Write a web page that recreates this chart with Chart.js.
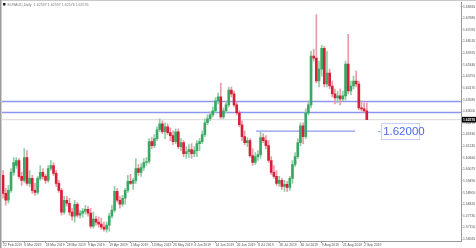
<!DOCTYPE html>
<html>
<head>
<meta charset="utf-8">
<script src="https://cdn.jsdelivr.net/npm/chart.js@4.4.1/dist/chart.umd.min.js"></script>
<style>
html, body { margin: 0; padding: 0; background: #fff; }
canvas { display: block; }
</style>
</head>
<body>
<canvas id="chart" width="476" height="248"></canvas>
<script>
// EURAUD daily candles, 22 Feb 2019 .. 3 Sep 2019 (one entry per trading day)
const symbolTitle = 'EURAUD,Daily  1.62597 1.62597 1.62576 1.62576';

const dateLabels = ['22 Feb 2019', '6 Mar 2019', '18 Mar 2019', '28 Mar 2019', '9 Apr 2019', '19 Apr 2019',
    '1 May 2019', '13 May 2019', '23 May 2019', '4 Jun 2019', '14 Jun 2019', '26 Jun 2019',
    '8 Jul 2019', '18 Jul 2019', '30 Jul 2019', '9 Aug 2019', '21 Aug 2019', '2 Sep 2019'];
const labelEvery = 8; // one date label every 8 bars

const opens = [
    1.5977, 1.5887, 1.5852, 1.5902, 1.5992, 1.6027, 1.6052, 1.5972, 1.5952, 1.6067,
    1.5937, 1.5962, 1.5902, 1.5892, 1.5962, 1.5992, 1.5972, 1.5952, 1.6012, 1.6027,
    1.5987, 1.5937, 1.5902, 1.5792, 1.5852, 1.5837, 1.5792, 1.5772, 1.5832, 1.5777,
    1.5787, 1.5797, 1.5807, 1.5787, 1.5722, 1.5757, 1.5742, 1.5732, 1.5717, 1.5707,
    1.5727, 1.5772, 1.5802, 1.5897, 1.5852, 1.5832, 1.5862, 1.5902, 1.5947, 1.5937,
    1.5952, 1.6012, 1.5992, 1.6017, 1.6042, 1.6047, 1.6147, 1.6127, 1.6162, 1.6207,
    1.6237, 1.6197, 1.6222, 1.6192, 1.6177, 1.6147, 1.6197, 1.6122, 1.6142, 1.6087,
    1.6097, 1.6107, 1.6087, 1.6102, 1.6137, 1.6147, 1.6182, 1.6242, 1.6262, 1.6282,
    1.6302, 1.6352, 1.6372, 1.6272, 1.6302, 1.6332, 1.6407, 1.6387, 1.6332, 1.6292,
    1.6232, 1.6172, 1.6142, 1.6152, 1.6077, 1.6042, 1.6072, 1.6082, 1.6167, 1.6152,
    1.6127, 1.6052, 1.5992, 1.5972, 1.5937, 1.5952, 1.5922, 1.5932, 1.5917, 1.5962,
    1.6032, 1.6072, 1.6142, 1.6227, 1.6172, 1.6292, 1.6332, 1.6577, 1.6567, 1.6452,
    1.6512, 1.6617, 1.6437, 1.6492, 1.6427, 1.6387, 1.6367, 1.6377, 1.6362, 1.6377,
    1.6537, 1.6402, 1.6427, 1.6452, 1.6437, 1.6317, 1.6312, 1.6302
];
const highs = [
    1.6002, 1.5912, 1.5927, 1.6012, 1.6067, 1.6067, 1.6062, 1.5992, 1.6112, 1.6102,
    1.6002, 1.5977, 1.5937, 1.5972, 1.6027, 1.6012, 1.5982, 1.6027, 1.6052, 1.6042,
    1.6002, 1.5952, 1.5912, 1.5872, 1.5872, 1.5862, 1.5812, 1.5852, 1.5842, 1.5802,
    1.5812, 1.5827, 1.5822, 1.5812, 1.5792, 1.5772, 1.5767, 1.5762, 1.5742, 1.5742,
    1.5787, 1.5827, 1.5922, 1.5912, 1.5872, 1.5877, 1.5912, 1.5977, 1.5982, 1.5962,
    1.6062, 1.6032, 1.6037, 1.6062, 1.6067, 1.6162, 1.6167, 1.6182, 1.6222, 1.6262,
    1.6252, 1.6242, 1.6237, 1.6217, 1.6202, 1.6212, 1.6212, 1.6162, 1.6152, 1.6122,
    1.6132, 1.6137, 1.6122, 1.6152, 1.6162, 1.6202, 1.6262, 1.6282, 1.6297, 1.6322,
    1.6367, 1.6392, 1.6442, 1.6317, 1.6352, 1.6422, 1.6422, 1.6402, 1.6347, 1.6302,
    1.6252, 1.6202, 1.6167, 1.6162, 1.6112, 1.6092, 1.6102, 1.6197, 1.6187, 1.6177,
    1.6152, 1.6072, 1.6027, 1.6002, 1.5972, 1.5962, 1.5952, 1.5947, 1.5972, 1.6052,
    1.6092, 1.6162, 1.6242, 1.6242, 1.6312, 1.6352, 1.6602, 1.6612, 1.6787, 1.6552,
    1.6632, 1.6627, 1.6602, 1.6512, 1.6452, 1.6412, 1.6402, 1.6412, 1.6402, 1.6552,
    1.6687, 1.6452, 1.6477, 1.6502, 1.6452, 1.6352, 1.6342, 1.6342
];
const lows = [
    1.5862, 1.5827, 1.5837, 1.5892, 1.5977, 1.6012, 1.5962, 1.5927, 1.5942, 1.5927,
    1.5922, 1.5887, 1.5877, 1.5882, 1.5952, 1.5957, 1.5937, 1.5942, 1.6002, 1.5977,
    1.5922, 1.5892, 1.5777, 1.5782, 1.5822, 1.5777, 1.5752, 1.5742, 1.5767, 1.5762,
    1.5767, 1.5782, 1.5772, 1.5712, 1.5712, 1.5727, 1.5717, 1.5707, 1.5697, 1.5692,
    1.5697, 1.5762, 1.5792, 1.5842, 1.5812, 1.5822, 1.5832, 1.5892, 1.5932, 1.5907,
    1.5937, 1.5977, 1.5972, 1.6002, 1.6027, 1.6037, 1.6112, 1.6117, 1.6152, 1.6197,
    1.6187, 1.6162, 1.6182, 1.6152, 1.6132, 1.6137, 1.6112, 1.6102, 1.6072, 1.6062,
    1.6067, 1.6062, 1.6072, 1.6072, 1.6102, 1.6137, 1.6172, 1.6232, 1.6252, 1.6272,
    1.6292, 1.6337, 1.6262, 1.6262, 1.6292, 1.6322, 1.6372, 1.6322, 1.6282, 1.6222,
    1.6152, 1.6132, 1.6122, 1.6067, 1.6027, 1.6032, 1.6052, 1.6062, 1.6142, 1.6112,
    1.6042, 1.5982, 1.5962, 1.5927, 1.5922, 1.5907, 1.5897, 1.5897, 1.5902, 1.5937,
    1.6022, 1.6062, 1.6127, 1.6137, 1.6162, 1.6282, 1.6317, 1.6552, 1.6442, 1.6422,
    1.6477, 1.6422, 1.6422, 1.6412, 1.6372, 1.6337, 1.6342, 1.6332, 1.6352, 1.6357,
    1.6387, 1.6382, 1.6412, 1.6422, 1.6307, 1.6302, 1.6292, 1.6257
];
const closes = [
    1.5887, 1.5852, 1.5902, 1.5992, 1.6042, 1.6052, 1.5972, 1.5952, 1.6067, 1.5937,
    1.5962, 1.5902, 1.5892, 1.5962, 1.5992, 1.5972, 1.5952, 1.6012, 1.6027, 1.5987,
    1.5937, 1.5902, 1.5792, 1.5852, 1.5837, 1.5792, 1.5772, 1.5832, 1.5777, 1.5787,
    1.5797, 1.5807, 1.5787, 1.5722, 1.5757, 1.5742, 1.5732, 1.5717, 1.5707, 1.5727,
    1.5772, 1.5802, 1.5897, 1.5852, 1.5832, 1.5862, 1.5902, 1.5947, 1.5937, 1.5952,
    1.6012, 1.5992, 1.6017, 1.6042, 1.6047, 1.6147, 1.6127, 1.6162, 1.6207, 1.6237,
    1.6197, 1.6222, 1.6192, 1.6177, 1.6147, 1.6197, 1.6122, 1.6142, 1.6087, 1.6097,
    1.6107, 1.6087, 1.6102, 1.6137, 1.6147, 1.6182, 1.6242, 1.6262, 1.6282, 1.6302,
    1.6352, 1.6372, 1.6272, 1.6302, 1.6332, 1.6407, 1.6387, 1.6332, 1.6292, 1.6232,
    1.6172, 1.6142, 1.6152, 1.6077, 1.6042, 1.6072, 1.6082, 1.6167, 1.6152, 1.6127,
    1.6052, 1.5992, 1.5972, 1.5937, 1.5952, 1.5922, 1.5932, 1.5917, 1.5962, 1.6032,
    1.6072, 1.6142, 1.6227, 1.6172, 1.6292, 1.6332, 1.6577, 1.6567, 1.6452, 1.6512,
    1.6617, 1.6437, 1.6492, 1.6427, 1.6387, 1.6367, 1.6377, 1.6362, 1.6377, 1.6537,
    1.6402, 1.6427, 1.6452, 1.6437, 1.6317, 1.6312, 1.6302, 1.62576
];

const priceTicks = [1.68265, 1.67680, 1.67095, 1.66510, 1.65925, 1.65340, 1.64755, 1.64170,
    1.63585, 1.63000, 1.62415, 1.61830, 1.61245, 1.60660, 1.60075, 1.59490, 1.58905,
    1.58320, 1.57735, 1.57150, 1.56565];

// horizontal levels drawn on the chart
const levelLines = [1.63490, 1.62940];
const shortLevel = 1.62000;
const shortLevelFrom = 95.3;   // bar index where the short line starts
const shortLevelTo = 132.6;    // bar index where it ends
const shortLevelLabelAt = 142.4;

const xMin = -0.4, xMax = 172.48;
const yMin = 1.5647, yMax = 1.6847;

const upBody = '#3aa865', downBody = '#d91f38';
const upWick = '#8fcfa5', downWick = '#ec9aa6';
const levelColor = '#8c96f0';
const lastClose = closes[closes.length - 1];

const isUp = opens.map((o, i) => closes[i] >= o);

const decor = {
    id: 'decor',
    afterDraw(chart) {
        const ctx = chart.ctx;
        const xs = chart.scales.x, ys = chart.scales.y;
        ctx.save();
        // frame bits
        ctx.fillStyle = '#c9c9c9';
        ctx.fillRect(0, 0, chart.width, 1);
        ctx.fillStyle = '#9b9b9b';
        ctx.fillRect(0, 0, 1.5, chart.height);

        // title
        ctx.fillStyle = '#222';
        ctx.fillRect(3, 3, 2.5, 2.5);
        ctx.fillStyle = '#7a7a7a';
        ctx.font = '3.6px "Liberation Sans"';
        ctx.textBaseline = 'middle';
        ctx.textAlign = 'left';
        ctx.fillText(symbolTitle, 7.5, 4.5);

        // last price box on the axis
        const py = ys.getPixelForValue(lastClose);
        ctx.fillStyle = '#000';
        ctx.fillRect(xs.right + 1, py - 2.8, chart.width - xs.right - 1, 5.6);
        ctx.fillStyle = '#fff';
        ctx.font = 'bold 3.4px "Liberation Sans"';
        ctx.fillText(lastClose.toFixed(5), xs.right + 2, py + 0.2);

        // 1.62000 text label
        const lx = xs.getPixelForValue(shortLevelLabelAt);
        const ly = ys.getPixelForValue(shortLevel);
        ctx.strokeStyle = levelColor;
        ctx.lineWidth = 1;
        ctx.beginPath();
        ctx.moveTo(lx - 3, ly + 0.5);
        ctx.lineTo(lx - 0.5, ly + 0.5);
        ctx.stroke();
        ctx.strokeStyle = '#c4ccf7';
        ctx.strokeRect(lx + 0.5, ly - 7.5, 38, 16);
        ctx.fillStyle = '#4a68ee';
        ctx.font = '11.5px "Liberation Sans"';
        ctx.fillText(shortLevel.toFixed(5), lx + 2, ly + 1);
        ctx.restore();
    }
};

const lineSet = (y, from, to, color, width) => ({
    type: 'line',
    data: [{ x: from, y: y }, { x: to, y: y }],
    borderColor: color,
    borderWidth: width,
    pointRadius: 0,
    order: 3
});

new Chart(document.getElementById('chart'), {
    type: 'bar',
    data: {
        datasets: [
            lineSet(lastClose, xMin, xMax, '#dadada', 1),
            ...levelLines.map(v => lineSet(v, xMin, xMax, levelColor, 1.4)),
            lineSet(shortLevel, shortLevelFrom, shortLevelTo, levelColor, 1.4),
            {
                data: opens.map((o, i) => ({ x: i, y: [lows[i], highs[i]] })),
                backgroundColor: isUp.map(u => u ? upWick : downWick),
                barThickness: 1,
                grouped: false,
                order: 2
            },
            {
                data: opens.map((o, i) => ({ x: i, y: [o, closes[i]] })),
                backgroundColor: isUp.map(u => u ? upBody : downBody),
                barThickness: 2,
                minBarLength: 1,
                grouped: false,
                order: 1
            }
        ]
    },
    options: {
        responsive: false,
        animation: false,
        devicePixelRatio: 1,
        layout: { padding: { left: 2, top: 1, right: 0, bottom: 0 } },
        plugins: { legend: { display: false }, tooltip: { enabled: false } },
        scales: {
            x: {
                type: 'linear',
                min: xMin,
                max: xMax,
                offset: false,
                grid: { drawOnChartArea: false, tickLength: 2, color: '#9a9a9a', offset: false },
                border: { color: '#9a9a9a' },
                ticks: {
                    autoSkip: false,
                    maxRotation: 0,
                    align: 'start',
                    padding: 0,
                    color: '#555',
                    font: { family: 'Liberation Sans', size: 3.4 },
                    callback: (v, i) => dateLabels[i]
                },
                afterBuildTicks: s => { s.ticks = dateLabels.map((d, k) => ({ value: k * labelEvery })); },
                afterFit: s => { s.height = 7; }
            },
            y: {
                position: 'right',
                min: yMin,
                max: yMax,
                grid: { drawOnChartArea: false, tickLength: 1.5, color: '#9a9a9a' },
                border: { color: '#9a9a9a' },
                ticks: {
                    autoSkip: false,
                    padding: 0.5,
                    color: '#555',
                    font: { family: 'Liberation Sans', size: 3.4 },
                    callback: v => v.toFixed(5)
                },
                afterBuildTicks: s => { s.ticks = priceTicks.map(v => ({ value: v })); },
                afterFit: s => { s.width = 15; }
            }
        }
    },
    plugins: [decor]
});
</script>
</body>
</html>
